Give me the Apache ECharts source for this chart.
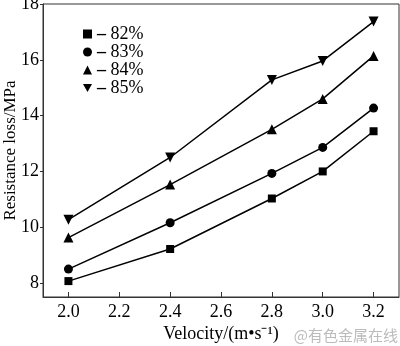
<!DOCTYPE html>
<html><head><meta charset="utf-8">
<script src="https://cdn.jsdelivr.net/npm/echarts@6/dist/echarts.min.js"></script>
<style>html,body{margin:0;padding:0;background:#fff}#c{width:400px;height:346px}</style>
</head><body><div id="c"></div>
<script>
const velocity = [2.0, 2.4, 2.8, 3.0, 3.2];
const s82 = [8.07, 9.22, 11.03, 12.0, 13.44];
const s83 = [8.5, 10.16, 11.93, 12.86, 14.27];
const s84 = [9.63, 11.53, 13.51, 14.6, 16.14];
const s85 = [10.27, 12.5, 15.28, 15.96, 17.37];
const seriesNames = ['82%', '83%', '84%', '85%'];
const xTicks = [2.0, 2.2, 2.4, 2.6, 2.8, 3.0, 3.2];
const yTicks = [8, 10, 12, 14, 16, 18];

const downTri = 'path://M0,0L10,0L5,9Z';
const symbols = ['rect', 'circle', 'triangle', downTri];
const sizes = [8, 9, 10, 10];
const values = [s82, s83, s84, s85];
const font = 'Liberation Serif';

const chart = echarts.init(document.getElementById('c'), null, {renderer: 'canvas'});
chart.setOption({
  animation: false,
  grid: {left: 43, right: 1, top: 4, bottom: 49, show: true, borderColor: '#333', borderWidth: 1,
    outerBoundsMode: 'none', containLabel: false},
  legend: {
    orient: 'vertical', left: 78, top: 20, itemWidth: 9, itemHeight: 9, itemGap: 0,
    data: seriesNames.map((n, i) => ({name: n, icon: symbols[i]})),
    formatter: n => '{d|\u2013} ' + n,
    textStyle: {fontFamily: font, fontSize: 18, color: '#000',
      rich: {d: {fontFamily: font, fontSize: 18, fontWeight: 'bold', color: '#000'}}}
  },
  xAxis: {
    type: 'value', min: 1.9, max: 3.3,
    axisLine: {lineStyle: {color: '#333'}},
    axisTick: {inside: true, length: 5, lineStyle: {color: '#333'}, customValues: xTicks},
    splitLine: {show: false},
    axisLabel: {fontFamily: font, fontSize: 18, color: '#000', margin: 6,
      customValues: xTicks, formatter: v => v.toFixed(1)},
    name: 'Velocity/(m\u2022s\u207B\u00B9)', nameLocation: 'middle', nameGap: 28, nameMoveOverlap: false,
    nameTextStyle: {fontFamily: font, fontSize: 18, color: '#000'}
  },
  yAxis: {
    type: 'value', min: 7.5, max: 18,
    axisLine: {lineStyle: {color: '#333'}},
    axisTick: {show: true, inside: false, length: 3, lineStyle: {color: '#333'}, customValues: yTicks},
    splitLine: {show: false},
    axisLabel: {fontFamily: font, fontSize: 18, color: '#000', margin: 4,
      customValues: yTicks, formatter: v => String(v)},
    name: 'Resistance loss/MPa', nameLocation: 'middle', nameGap: 24, nameMoveOverlap: false,
    nameTextStyle: {fontFamily: font, fontSize: 17, color: '#000'}
  },
  series: seriesNames.map((n, i) => ({
    name: n, type: 'line',
    data: velocity.map((x, j) => [x, values[i][j]]),
    symbol: symbols[i], symbolSize: sizes[i], showSymbol: true,
    lineStyle: {color: '#000', width: 1.5},
    itemStyle: {color: '#000'}
  })),
  graphic: [{
    type: 'text', right: 2, bottom: 3,
    style: {text: '@有色金属在线', fill: '#bbb', fontSize: 15, fontFamily: 'Noto Sans CJK SC'}
  }]
});
</script></body></html>
